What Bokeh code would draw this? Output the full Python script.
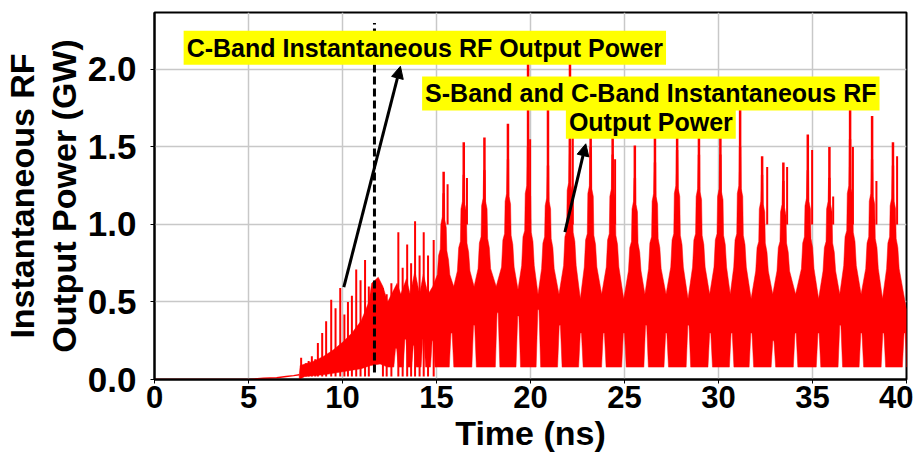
from bokeh.plotting import figure
from bokeh.models import Range1d, Label, Arrow, NormalHead, FixedTicker
from bokeh.embed import file_html
from bokeh.resources import INLINE

# ---------------- data ----------------
# quiet start of the trace
pre_t = [0.0, 5.0, 5.8, 6.5, 7.0, 7.4, 7.7]
pre_v = [0.0, 0.0, 0.008, 0.012, 0.02, 0.025, 0.03]

# upper edge of the solid band during the build-up (ns, GW)
base_t = [7.7, 7.75, 8.0, 8.5, 9.0, 9.5, 10.0, 10.5, 11.0, 11.4, 11.55, 11.9,
          12.15, 12.4, 12.9, 13.1, 13.4, 13.6, 13.85, 14.1, 14.3, 14.55, 14.8]
base_hi = [0.03, 0.09, 0.10, 0.12, 0.15, 0.19, 0.24, 0.30, 0.38, 0.50, 0.62, 0.66,
           0.60, 0.50, 0.62, 0.55, 0.65, 0.55, 0.70, 0.55, 0.68, 0.55, 0.60]
# lower edge of the band during the build-up
lo_t = [7.7, 8.0, 9.0, 10.0, 11.0, 11.5, 12.0, 12.4]
lo_v = [0.0, 0.02, 0.03, 0.05, 0.07, 0.09, 0.10, 0.08]

# build-up spikes (time, tip)
early_t = [7.8, 8.05, 8.2, 8.37, 8.55, 8.69, 8.92, 9.13, 9.4, 9.63, 9.88, 10.1,
           10.29, 10.5, 10.73, 10.96, 11.2, 11.4, 12.15, 12.35, 12.6, 12.97, 13.2,
           13.44, 13.65, 13.86, 14.1, 14.32, 14.55, 14.85]
early_v = [0.14, 0.105, 0.12, 0.15, 0.13, 0.236, 0.30, 0.375, 0.514, 0.46, 0.59, 0.42,
           0.50, 0.54, 0.71, 0.64, 0.77, 0.60, 0.59, 0.55, 0.62, 0.95, 0.72,
           0.87, 0.75, 1.02, 0.80, 0.95, 0.80, 0.90]

# S+C beat pulses (centre time, spike tip, body top, shoulder, flank)
pulse_t = [15.38, 16.45, 17.55, 18.8, 19.87, 20.93, 22.1, 23.2, 24.37, 25.55, 26.62,
           27.8, 28.96, 30.1, 31.15, 32.32, 33.45, 34.75, 35.9, 37.0, 38.17, 39.28]
pulse_tip = [1.34, 1.53, 1.56, 1.65, 2.15, 1.78, 2.12, 1.80, 1.56, 1.51, 1.56,
             1.80, 1.82, 1.85, 1.85, 1.44, 1.40, 1.58, 1.50, 1.85, 1.70, 1.53]
pulse_top = [1.20, 1.32, 1.35, 1.42, 1.50, 1.38, 1.55, 1.50, 1.45, 1.30, 1.40,
             1.48, 1.45, 1.45, 1.50, 1.32, 1.28, 1.35, 1.30, 1.55, 1.42, 1.38]
pulse_shoulder = [1.00, 1.10, 1.12, 1.15, 1.20, 1.12, 1.22, 1.20, 1.18, 1.10, 1.15,
                  1.20, 1.18, 1.18, 1.20, 1.10, 1.08, 1.12, 1.10, 1.20, 1.15, 1.12]
pulse_flank = [0.80, 0.85, 0.88, 0.90, 0.92, 0.88, 0.92, 0.90, 0.90, 0.85, 0.88,
               0.90, 0.90, 0.90, 0.90, 0.85, 0.85, 0.88, 0.85, 0.92, 0.88, 0.88]
# level of the band between consecutive pulses
gap_hi = [0.60, 0.60, 0.60, 0.58, 0.55, 0.55, 0.52, 0.55, 0.52, 0.55, 0.55,
          0.52, 0.55, 0.55, 0.52, 0.55, 0.55, 0.52, 0.55, 0.55, 0.52]
end_v = 0.45

# secondary spikes beside the main ones (time, tip)
sec_t = [15.59, 16.62, 19.98, 22.25, 24.5, 32.59, 33.65, 34.98, 36.1, 37.15, 38.4, 39.5]
sec_v = [1.26, 1.30, 1.55, 1.60, 1.42, 1.37, 1.37, 1.48, 1.18, 1.50, 1.28, 1.44]

# white notches at the bottom of the band (time, height)
notch_t = [12.85, 13.35, 13.8, 14.3, 14.8, 15.8, 17.0, 18.25, 19.35, 20.42, 21.56,
           22.68, 23.9, 24.97, 26.15, 27.22, 28.4, 29.56, 30.7, 31.75, 32.92, 34.1,
           35.32, 36.48, 37.6, 38.77, 39.9]
notch_h = [0.20, 0.26, 0.22, 0.26, 0.25, 0.30, 0.35, 0.43, 0.41, 0.45, 0.35,
           0.30, 0.30, 0.30, 0.35, 0.30, 0.35, 0.30, 0.30, 0.30, 0.25, 0.30,
           0.30, 0.35, 0.30, 0.30, 0.30]
floor_v = 0.08

# annotation anchors (data units)
marker_t = 11.7
marker_lo, marker_hi = 0.045, 2.30
label1 = "C-Band Instantaneous RF Output Power"
label1_xy = (1.55, 2.14)
label2a = "S-Band and C-Band Instantaneous RF"
label2b = "Output Power"
label2_xy = (26.4, 1.845, 1.662)
arrow1 = (10.07, 0.596, 13.08, 2.02)
arrow2 = (21.83, 0.95, 22.94, 1.52)

x_ticks = [0, 5, 10, 15, 20, 25, 30, 35, 40]
y_ticks = [0.0, 0.5, 1.0, 1.5, 2.0]

# ---------------- figure ----------------
RED = "#ff0000"
FONT = "Liberation Sans"

p = figure(width=913, height=454, output_backend="svg", toolbar_location=None,
           x_range=Range1d(0, 40), y_range=Range1d(0, 2.367),
           min_border_left=153, min_border_right=7, min_border_top=12,
           min_border_bottom=74)
p.background_fill_color = "white"
p.border_fill_color = "white"
p.outline_line_color = "black"
p.outline_line_width = 2

# outline of the band: up along the upper edge (stepped pulses), back along the lower edge
up_x, up_y = list(base_t), list(base_hi)
for i, c in enumerate(pulse_t):
    fl, sh, tp = pulse_flank[i], pulse_shoulder[i], pulse_top[i]
    left = [(-0.34, (fl + 0.55) / 2), (-0.27, fl), (-0.18, fl + 0.04),
            (-0.15, sh), (-0.07, sh + 0.05), (-0.045, tp)]
    right = [(0.045, tp), (0.06, sh + 0.03), (0.14, sh - 0.02), (0.17, fl + 0.03),
             (0.26, fl - 0.03), (0.33, (fl + 0.55) / 2)]
    for o, h in left + right:
        up_x.append(c + o)
        up_y.append(h)
    if i < len(gap_hi):
        up_x.append((c + pulse_t[i + 1]) / 2)
        up_y.append(gap_hi[i])
up_x.append(40.0)
up_y.append(end_v)

dn_x, dn_y = list(lo_t), list(lo_v)
for t, h in zip(notch_t, notch_h):
    dn_x += [t - 0.12, t - 0.03, t + 0.03, t + 0.12]
    dn_y += [floor_v, h, h, floor_v]
dn_x.append(40.0)
dn_y.append(floor_v)

p.patch(up_x + dn_x[::-1], up_y + dn_y[::-1], fill_color=RED, line_color=RED,
        line_width=0.5)
p.line(pre_t, pre_v, line_color=RED, line_width=1.5)

p.segment(x0=early_t, y0=[0.02] * len(early_t), x1=early_t, y1=early_v,
          line_color=RED, line_width=2)
p.segment(x0=pulse_t, y0=pulse_shoulder, x1=pulse_t, y1=pulse_tip,
          line_color=RED, line_width=2.5)
p.segment(x0=sec_t, y0=[1.0] * len(sec_t), x1=sec_t, y1=sec_v,
          line_color=RED, line_width=2)

# dashed marker
p.line([marker_t, marker_t], [marker_lo, marker_hi], line_color="black",
       line_width=3, line_dash="8 4")

# arrows
for (x0, y0, x1, y1) in (arrow1, arrow2):
    p.add_layout(Arrow(end=NormalHead(size=12, fill_color="black", line_color="black"),
                       x_start=x0, y_start=y0, x_end=x1, y_end=y1,
                       line_color="black", line_width=3))

# labels
def add_label(x, y, text, align):
    p.add_layout(Label(x=x, y=y, text=text, text_align=align, text_baseline="middle",
                       text_font=FONT, text_font_style="bold", text_font_size="25px",
                       text_color="black", background_fill_color="#ffff00",
                       padding=3))

add_label(label1_xy[0], label1_xy[1], label1, "left")
add_label(label2_xy[0], label2_xy[1], label2a, "center")
add_label(label2_xy[0], label2_xy[2], label2b, "center")

# axes
p.xaxis.ticker = FixedTicker(ticks=x_ticks)
p.yaxis.ticker = FixedTicker(ticks=y_ticks)
p.yaxis.major_label_overrides = {v: f"{v:.1f}" for v in y_ticks}
for ax in (p.xaxis, p.yaxis):
    ax.axis_line_color = "black"
    ax.axis_line_width = 2
    ax.major_tick_line_color = "black"
    ax.major_tick_out = 4
    ax.major_tick_in = 0
    ax.minor_tick_line_color = None
    ax.major_label_text_font = FONT
    ax.major_label_text_font_style = "bold"
    ax.major_label_text_color = "black"
    ax.axis_label_text_font = FONT
    ax.axis_label_text_font_style = "bold"
    ax.axis_label_text_font_size = "34px"
    ax.axis_label_text_color = "black"
p.xaxis.major_label_text_font_size = "31px"
p.yaxis.major_label_text_font_size = "35px"
p.xaxis.axis_label = "Time (ns)"
p.yaxis.axis_label = "Instantaneous RF\nOutput Power (GW)"
p.yaxis.axis_label_text_line_height = 1.1
p.xaxis.major_label_standoff = 2
p.yaxis.major_label_standoff = 14
p.xaxis.axis_label_standoff = 3
p.yaxis.axis_label_standoff = 2

p.xgrid.grid_line_color = "#c8c8c8"
p.ygrid.grid_line_color = "#c8c8c8"
p.xgrid.grid_line_width = 1.5
p.ygrid.grid_line_width = 1.5

open("out.html", "w").write(file_html(p, INLINE))
